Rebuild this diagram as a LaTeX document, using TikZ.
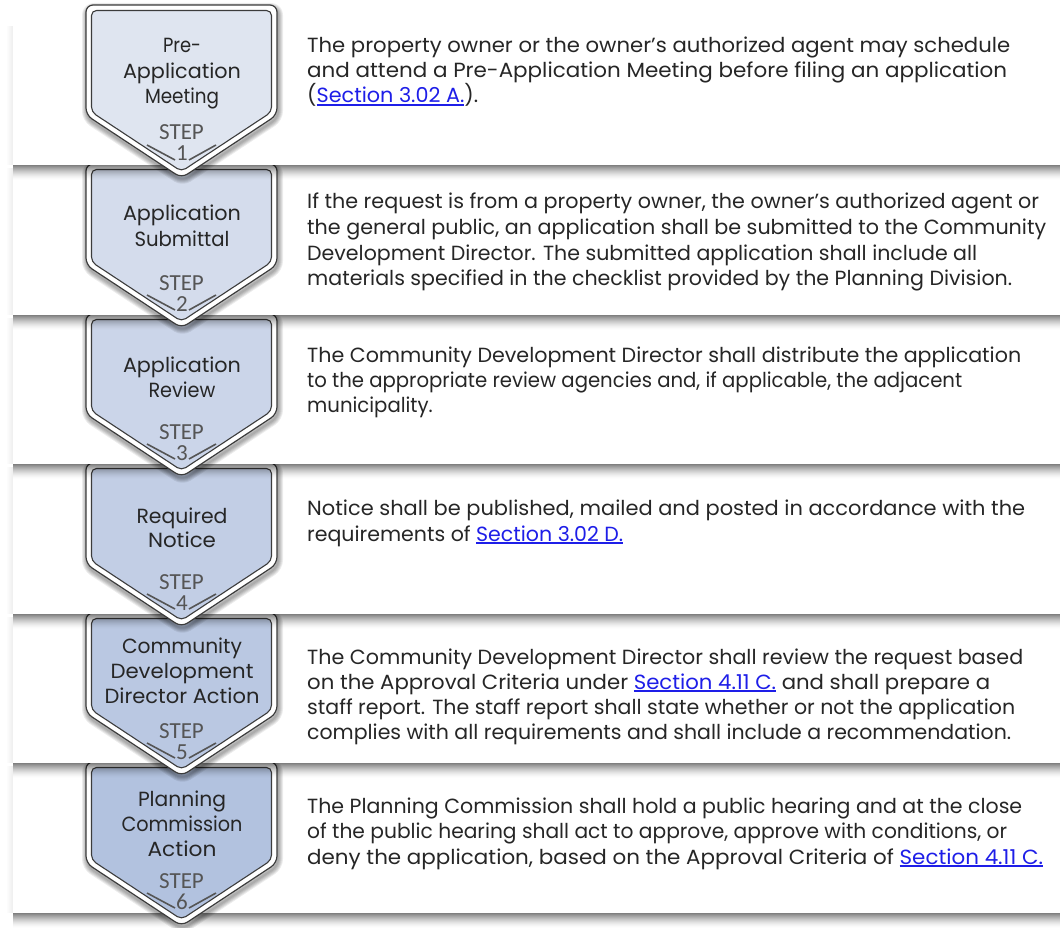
\documentclass[tikz,border=0pt]{standalone}
\usepackage{fontspec}
\setmainfont{Poppins}
\newfontfamily\stepfont{Carlito}
\usepackage{graphicx}
\definecolor{txt}{HTML}{262626}
\definecolor{linkblue}{HTML}{1E1EE8}
\definecolor{stepgray}{HTML}{555555}
\definecolor{edge}{HTML}{3C3C3C}
\definecolor{ca}{HTML}{DFE5F0}
\definecolor{cb}{HTML}{D4DCEC}
\definecolor{cc}{HTML}{CBD5E9}
\definecolor{cd}{HTML}{C2CEE5}
\definecolor{ce}{HTML}{BAC8E2}
\definecolor{cf}{HTML}{B2C2DF}
\newsavebox\fitbox
\def\lastscale{1}
\newcommand\fitline[2]{\sbox\fitbox{#2}\xdef\lastscale{\fpeval{(#1)/(\the\wd\fitbox)}}\scalebox{\lastscale}[1]{\usebox\fitbox}}
\newcommand\keepline[1]{\scalebox{\lastscale}[1]{#1}}
\newcommand\lnk[1]{{\color{linkblue}\setbox0\hbox{#1}\rlap{\rule[-2.6pt]{\wd0}{1.2pt}}\box0}}
\newcommand\chevpath[2]{(86,#1) -- (277,#1) -- (277,#2-63) -- (181.5,#2) -- (86,#2-63) -- cycle}
\newcommand\chevinner[2]{(91.5,#1+5.5) -- (271.5,#1+5.5) -- (271.5,#2-66) -- (181.5,#2-6.6) -- (91.5,#2-66) -- cycle}
% panel: top, bottom
\newcommand\panelbox[2]{%
  \fill[white] (13,#1) rectangle (1060,#2);
  \foreach \k [evaluate=\k as \op using {0.07*(1-\k/7)}] in {1,...,6}
    \fill[black,opacity=\op] (13-\k,#1+3) rectangle (14-\k,#2);
  \foreach \k [evaluate=\k as \op using {0.5*(1-\k/15)^1.6}] in {0,...,14}
    \fill[black,opacity=\op] (13,#2+\k) rectangle (1060,#2+\k+1);
}
% chevron: top, point, colour
\newcommand\chevron[3]{%
  \foreach \k [evaluate=\k as \w using {2*\k}] in {1,...,5}
    \draw[black,opacity=0.075,line width=\w,rounded corners=7,line join=round,shift={(1,3)}] \chevpath{#1}{#2};
  \draw[fill=white,draw=edge,line width=1.2,rounded corners=7] \chevpath{#1}{#2};
  \draw[fill=#3,draw=edge,line width=1.1,rounded corners=5] \chevinner{#1}{#2};
  \draw[stepgray,line width=1.6] (147,#2-33) -- (175,#2-18) (189,#2-18) -- (216,#2-33);
}
\newcommand\bodyline[4]{\node[anchor=base west] (#1) at (307,#2) {\fitline{#3}{#4}};}
\newcommand\bodykeep[3]{\node[anchor=base west] (#1) at (307,#2) {\keepline{#3}};}
\newcommand\labline[4]{\node[anchor=base] (#1) at (182,#2) {\fitline{#3}{#4}};}
\newcommand\stepnum[3]{%
  \node[anchor=base,font=\stepfont\fontsize{23}{23}\selectfont,text=stepgray] (#1s) at (181.5,#2-38) {STEP};
  \node[anchor=base,font=\stepfont\fontsize{23}{23}\selectfont,text=stepgray] (#1n) at (182,#2-17) {#3};
}
\begin{document}
\begin{tikzpicture}[x=1pt,y=-1pt,
  every node/.style={inner sep=0pt,text=txt,font=\fontsize{20.5}{25}\selectfont}]
\useasboundingbox (0,0) rectangle (1060,928);
\fill[white] (0,0) rectangle (1060,928);
% drawn from the bottom row upwards
\panelbox{763}{913}\chevron{762}{926}{cf}
\panelbox{614}{763}\chevron{613}{776}{ce}
\panelbox{464}{614}\chevron{463}{627}{cd}
\panelbox{315}{464}\chevron{314}{477}{cc}
\panelbox{165}{315}\chevron{164}{328}{cb}
\panelbox{23}{165}\chevron{5}{178}{ca}
% chevron labels
\labline{a1}{53}{38}{Pre-}
\labline{a2}{79}{118}{Application}
\labline{a3}{104}{74}{Meeting}
\stepnum{a}{178}{1}
\labline{b1}{221}{118}{Application}
\labline{b2}{246}{95}{Submittal}
\stepnum{b}{328}{2}
\labline{c1}{372}{118}{Application}
\labline{c2}{397}{67}{Review}
\stepnum{c}{477}{3}
\labline{d1}{523}{91}{Required}
\labline{d2}{547}{68}{Notice}
\stepnum{d}{627}{4}
\labline{e1}{653}{120}{Community}
\labline{e2}{678}{143}{Development}
\labline{e3}{703}{155}{Director Action}
\stepnum{e}{776}{5}
\labline{f1}{806}{88}{Planning}
\labline{f2}{831}{121}{Commission}
\labline{f3}{856}{69}{Action}
\stepnum{f}{926}{6}
% body texts
\bodyline{p1a}{53}{703}{The property owner or the owner’s authorized agent may schedule}
\bodyline{p1b}{78}{700}{and attend a Pre-Application Meeting before filing an application}
\bodyline{p1c}{103}{171}{(\lnk{Section 3.02 A.}).}
\bodyline{p2a}{209}{732}{If the request is from a property owner, the owner’s authorized agent or}
\bodyline{p2b}{235}{739}{the general public, an application shall be submitted to the Community}
\bodyline{p2c}{260}{670}{Development Director. The submitted application shall include all}
\bodyline{p2d}{285}{705}{materials specified in the checklist provided by the Planning Division.}
\bodyline{p3a}{362}{714}{The Community Development Director shall distribute the application}
\bodyline{p3b}{387}{655}{to the appropriate review agencies and, if applicable, the adjacent}
\bodykeep{p3c}{412}{municipality.}
\bodyline{p4a}{515}{718}{Notice shall be published, mailed and posted in accordance with the}
\bodyline{p4b}{541}{316}{requirements of \lnk{Section 3.02 D.}}
\bodyline{p5a}{664}{716}{The Community Development Director shall review the request based}
\bodyline{p5b}{689}{683}{on the Approval Criteria under \lnk{Section 4.11 C.} and shall prepare a}
\bodyline{p5c}{714}{708}{staff report. The staff report shall state whether or not the application}
\bodyline{p5d}{739}{704}{complies with all requirements and shall include a recommendation.}
\bodyline{p6a}{813}{715}{The Planning Commission shall hold a public hearing and at the close}
\bodyline{p6b}{838}{700}{of the public hearing shall act to approve, approve with conditions, or}
\bodyline{p6c}{864}{736}{deny the application, based on the Approval Criteria of \lnk{Section 4.11 C.}}
\end{tikzpicture}
\end{document}
